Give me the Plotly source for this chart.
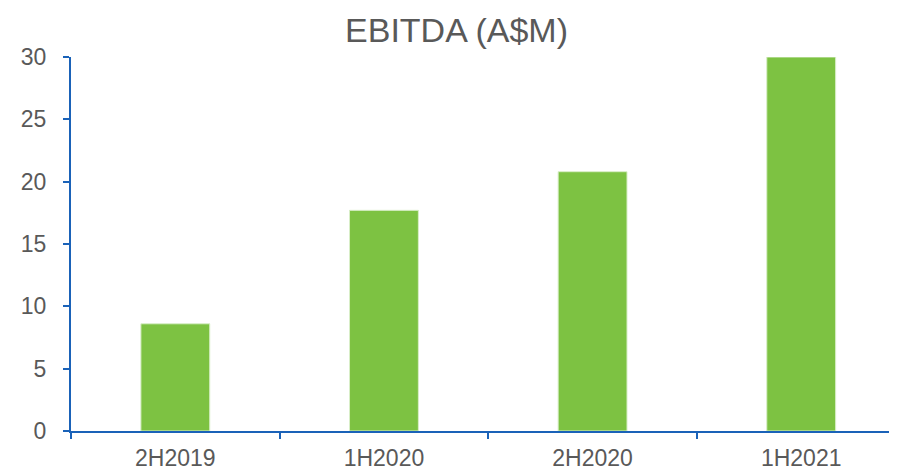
import plotly.graph_objects as go

categories = ["2H2019", "1H2020", "2H2020", "1H2021"]
ebitda = [8.6, 17.7, 20.8, 30.0]
y_ticks = [0, 5, 10, 15, 20, 25, 30]

axis_color = "#1A62B8"
text_color = "#595959"

fig = go.Figure(go.Bar(
    x=categories, y=ebitda, width=0.33,
    marker=dict(color="#7DC242", line=dict(color="#D9EEC8", width=1)),
))

fig.update_layout(
    width=897, height=475,
    margin=dict(l=63, r=12, t=49, b=50),
    paper_bgcolor="white", plot_bgcolor="white",
    font=dict(family="Liberation Sans, Arial", size=23, color=text_color),
    title=dict(text="EBITDA (A$M)", x=0.5, xanchor="center", y=0.954, yanchor="middle",
               font=dict(size=34, color=text_color)),
    showlegend=False,
    bargap=0.67,
)
fig.update_xaxes(
    type="category", range=[-0.5, 3.44],
    showline=True, linecolor=axis_color, linewidth=2,
    ticks="outside", tickson="boundaries", ticklen=6, tickwidth=2, tickcolor=axis_color,
    showgrid=False, ticklabelstandoff=5,
)
fig.update_yaxes(
    range=[0, 30], tickvals=y_ticks,
    showline=True, linecolor=axis_color, linewidth=2,
    ticks="outside", ticklen=6, tickwidth=2, tickcolor=axis_color,
    showgrid=False, zeroline=False, ticklabelstandoff=12,
)

fig.write_html("out.html")
